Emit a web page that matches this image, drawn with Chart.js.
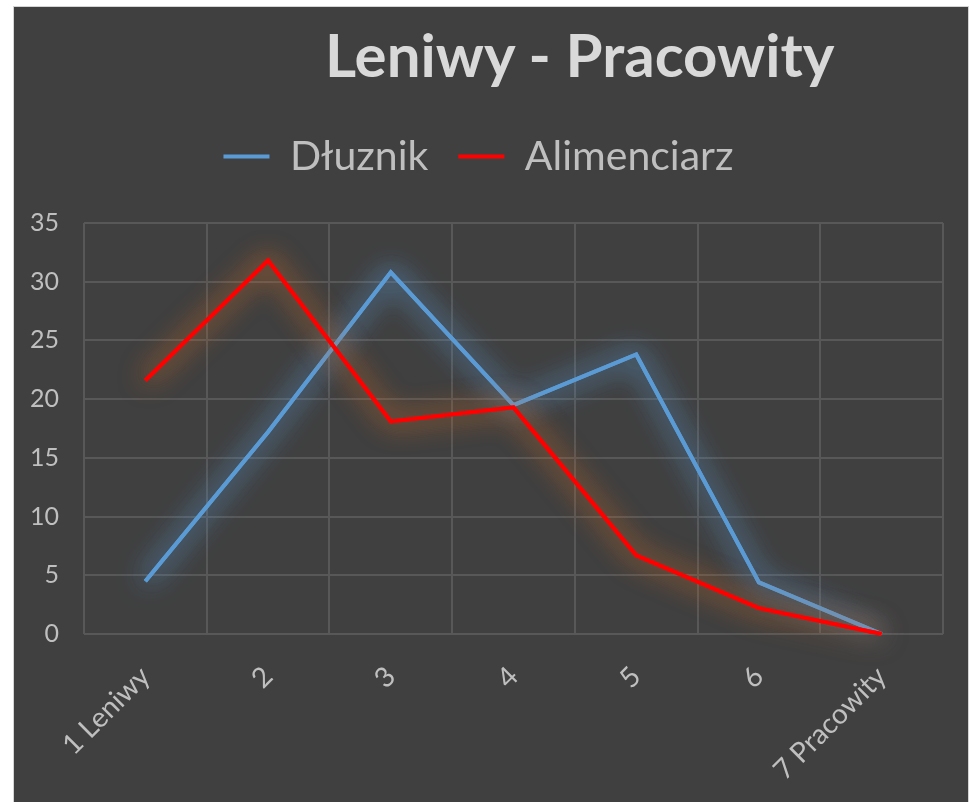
<!DOCTYPE html>
<html>
<head>
<meta charset="utf-8">
<title>Leniwy - Pracowity</title>
<script src="https://cdn.jsdelivr.net/npm/chart.js@4"></script>
<style>
	html, body { margin: 0; padding: 0; background: #ffffff; }
	#box { position: absolute; left: 13px; top: 6px; width: 954px; height: 800px; background: #404040; border: 1px solid #d4d4d4; }
	#box canvas { position: absolute; left: 0; top: 0; }
	#title { position: absolute; left: 311px; width: 500px; top: 17px; text-align: center;
		font: bold 60px Lato, "Open Sans", sans-serif; line-height: 60px; color: #d9d9d9; white-space: nowrap; }
</style>
</head>
<body>
<div id="box">
	<canvas id="chart" width="954" height="796"></canvas>
	<div id="title">Leniwy - Pracowity</div>
</div>
<script>
	// values
	var categories = ['1 Leniwy', '2', '3', '4', '5', '6', '7 Pracowity'];
	var dluznik = [4.5, 17.2, 30.8, 19.5, 23.8, 4.4, 0];
	var alimenciarz = [21.6, 31.8, 18.1, 19.3, 6.7, 2.2, 0];
	var yTicks = [0, 5, 10, 15, 20, 25, 30, 35];

	var textColor = '#bfbfbf';
	var gridColor = '#585858';
	var glowColors = ['rgba(91,155,213,1)', 'rgba(200,105,40,1)'];

	// soft glow under each line, like the Excel effect
	var glowPlugin = {
		id: 'glow',
		beforeInit: function(chart) {
			// extra room between legend and plot
			var fit = chart.legend.fit;
			chart.legend.fit = function() {
				fit.call(this);
				this.height += 36;
			};
		},
		beforeDatasetDraw: function(chart, args) {
			var ctx = chart.ctx;
			ctx.save();
			ctx.shadowColor = glowColors[args.index];
			ctx.shadowBlur = 28;
			ctx.shadowOffsetX = 0;
			ctx.shadowOffsetY = 0;
			// one extra pass so the glow is as strong as in Excel
			args.meta.dataset.draw(ctx, chart.chartArea);
		},
		afterDatasetDraw: function(chart) {
			chart.ctx.restore();
		}
	};

	var ctx = document.getElementById('chart').getContext('2d');
	new Chart(ctx, {
		type: 'line',
		data: {
			labels: categories,
			datasets: [
				{ label: 'Dłuznik', data: dluznik, borderColor: '#5b9bd5', backgroundColor: '#5b9bd5', borderWidth: 4, pointRadius: 0, tension: 0, order: 1 },
				{ label: 'Alimenciarz', data: alimenciarz, borderColor: '#ff0000', backgroundColor: '#ff0000', borderWidth: 4, pointRadius: 0, tension: 0, order: 0 }
			]
		},
		options: {
			responsive: false,
			animation: false,
			layout: { padding: { top: 99, right: 25, left: 0, bottom: 0 } },
			plugins: {
				title: { display: false },
				tooltip: { enabled: false },
				legend: {
					position: 'top',
					labels: {
						usePointStyle: true,
						pointStyle: 'line',
						pointStyleWidth: 46,
						padding: 30,
						color: textColor,
						font: { family: 'Lato, "Open Sans", sans-serif', size: 41 },
						sort: function(a, b) { return a.datasetIndex - b.datasetIndex; }
					}
				}
			},
			scales: {
				x: {
					offset: true,
					grid: { color: gridColor, lineWidth: 2, drawTicks: false, offset: true },
					border: { display: false },
					ticks: {
						color: textColor,
						font: { family: 'Lato, "Open Sans", sans-serif', size: 28 },
						maxRotation: 45, minRotation: 45,
						padding: 26
					},
					afterFit: function(scale) { scale.height = 169; }
				},
				y: {
					min: 0, max: 35,
					afterBuildTicks: function(scale) {
						scale.ticks = yTicks.map(function(v) { return { value: v }; });
					},
					grid: { color: gridColor, lineWidth: 2, drawTicks: false },
					border: { display: false },
					ticks: {
						color: textColor,
						font: { family: 'Lato, "Open Sans", sans-serif', size: 25 },
						padding: 25
					},
					afterFit: function(scale) { scale.width = 70; }
				}
			}
		},
		plugins: [glowPlugin]
	});
</script>
</body>
</html>
